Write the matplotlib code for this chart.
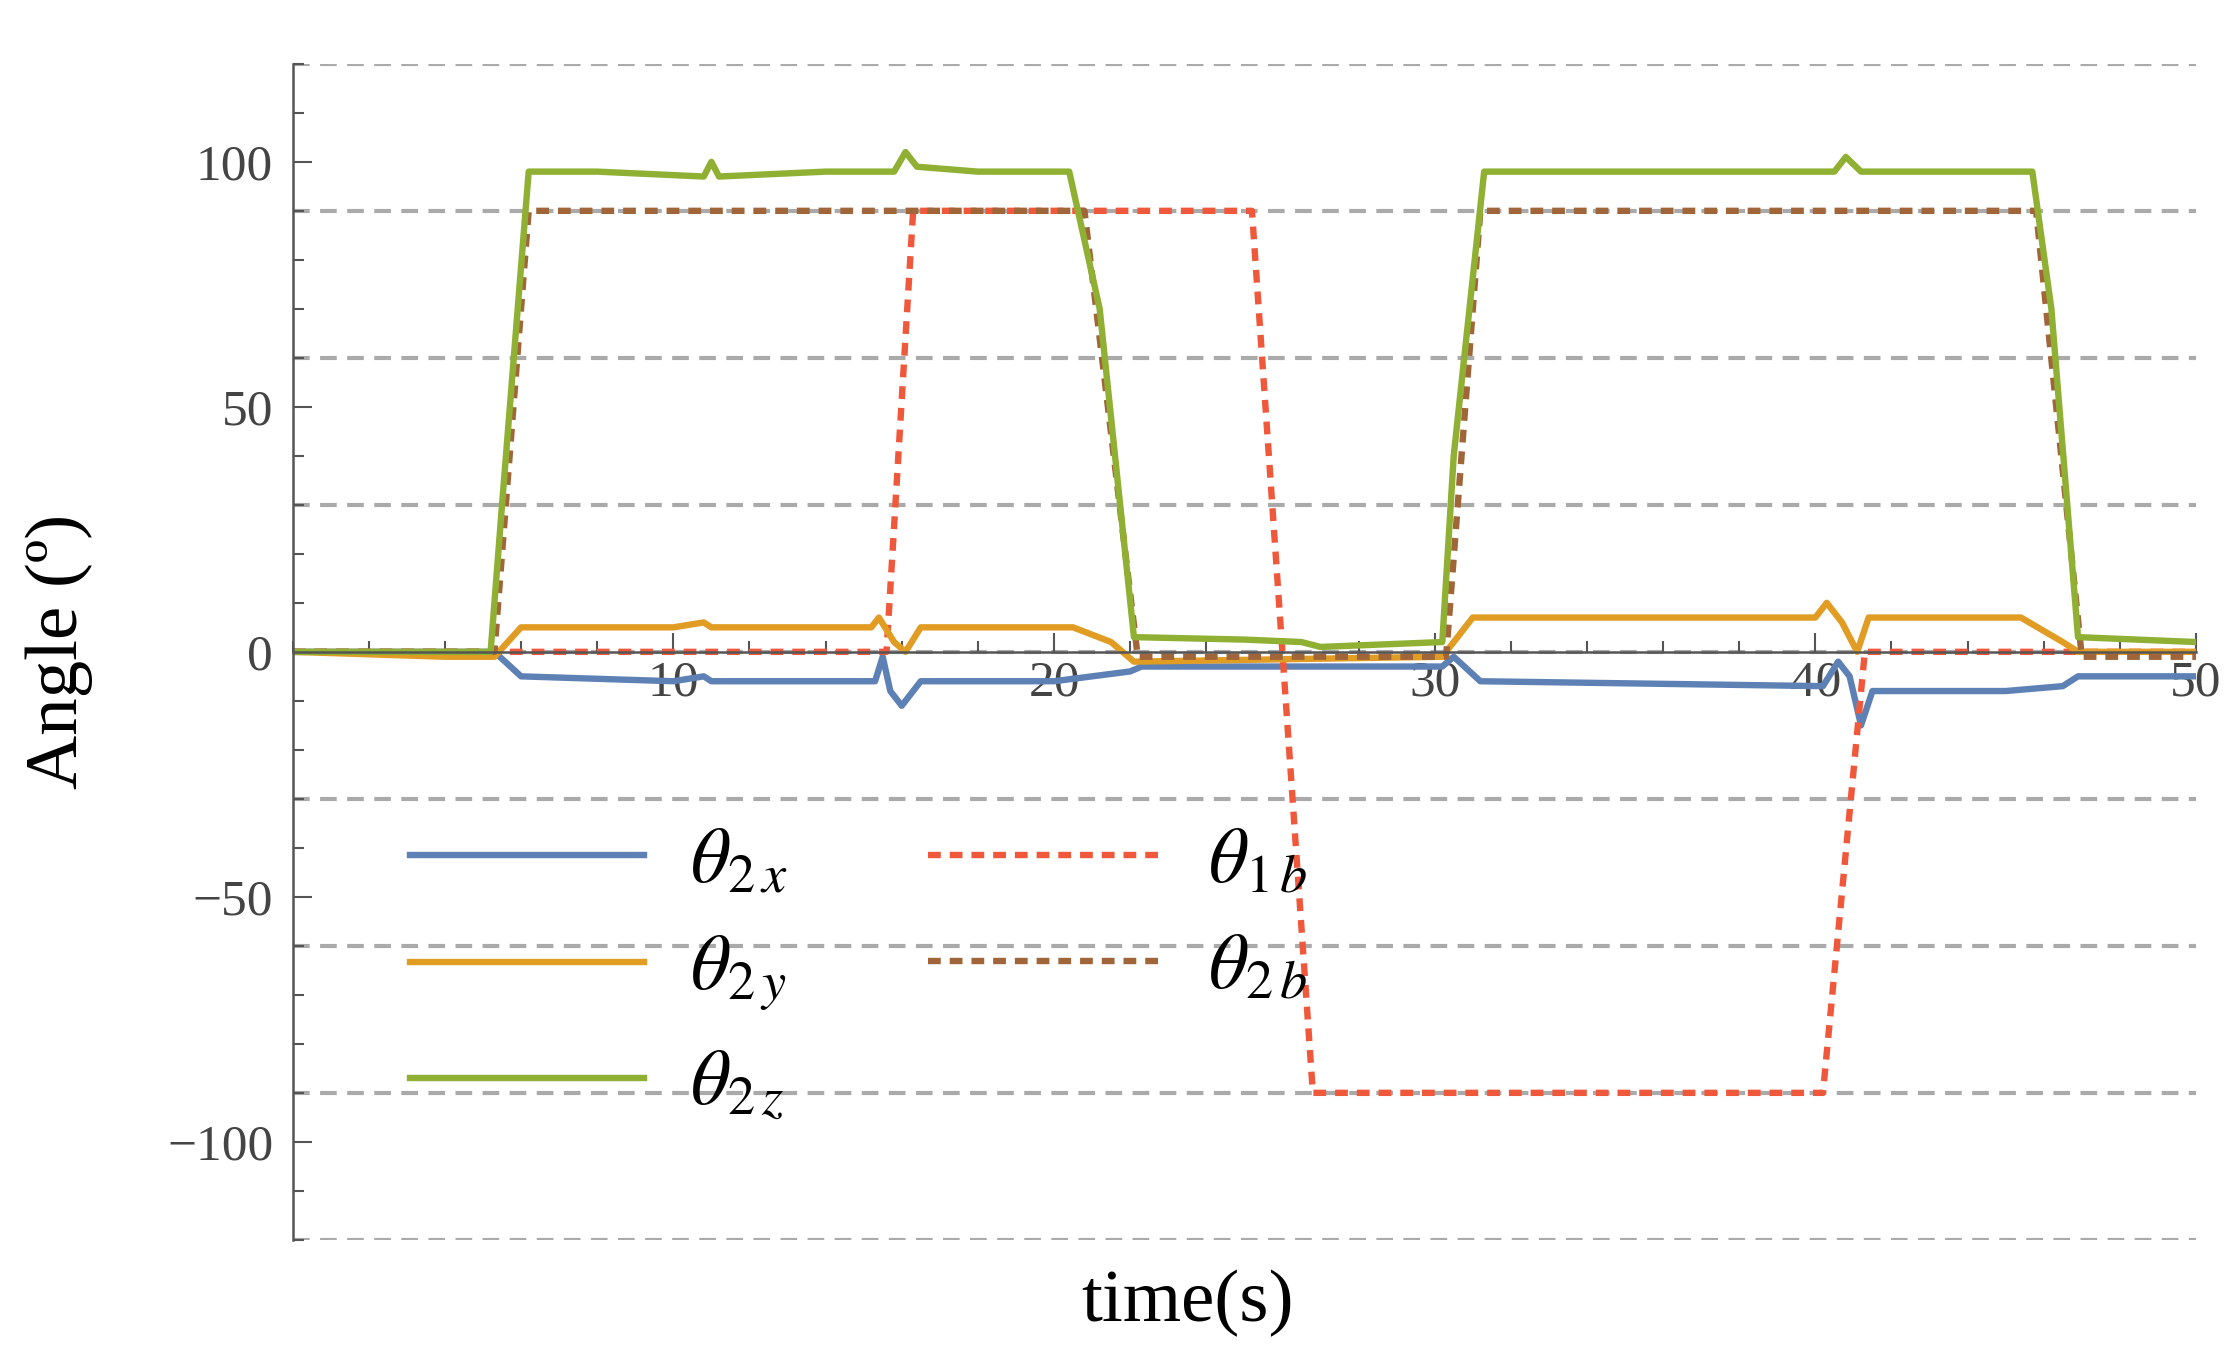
import numpy as np
import matplotlib.pyplot as plt
from matplotlib.ticker import MultipleLocator

plt.rcParams["mathtext.fontset"] = "stix"
plt.rcParams["font.family"] = ["Liberation Serif", "DejaVu Serif"]

# series: (time, angle) breakpoints
t2z = [0, 5.2, 5.5, 6.2, 8, 10.8, 11, 11.2, 14, 15.8, 16.1, 16.4, 18, 20.4, 21.2, 22.1, 25, 26.5, 27, 30.2, 30.5, 31.3, 35, 40.5, 40.8, 41.2, 45.7, 46.2, 46.9, 50]
v2z = [0, 0, 30, 98, 98, 97, 100, 97, 98, 98, 102, 99, 98, 98, 70, 3, 2.5, 2, 1, 2, 40, 98, 98, 98, 101, 98, 98, 70, 3, 2]

t2b = [0, 5.3, 6.2, 20.8, 22.2, 30.3, 31.2, 45.8, 47, 50]
v2b = [0, 0, 90, 90, -1, -1, 90, 90, -1, -1]

t1b = [0, 15.6, 16.3, 25.2, 26.8, 40.2, 41.3, 50]
v1b = [0, 0, 90, 90, -90, -90, 0, 0]

t2x = [0, 5.3, 6.0, 10, 10.8, 11, 15.3, 15.5, 15.7, 16.0, 16.5, 20, 22, 22.3, 30.2, 30.5, 31.2, 40.2, 40.6, 40.9, 41.2, 41.5, 45, 46.5, 46.9, 50]
v2x = [0, 0, -5, -6, -5, -6, -6, -1, -8, -11, -6, -6, -4, -3, -3, -1, -6, -7, -2, -5, -15, -8, -8, -7, -5, -5]

t2y = [0, 4, 5.3, 6.0, 10, 10.8, 11, 15.2, 15.4, 15.8, 16.1, 16.5, 20.5, 21.5, 22.1, 30.2, 31.0, 35, 40.0, 40.3, 40.7, 41.1, 41.4, 45.4, 46.5, 46.9, 50]
v2y = [0, -1, -1, 5, 5, 6, 5, 5, 7, 2, 0, 5, 5, 2, -2, -1, 7, 7, 7, 10, 6, 0, 7, 7, 2, 0, 0]

fig = plt.figure(figsize=(22.34, 13.58), dpi=100)
ax = fig.add_axes([0.131, 0.087, 0.852, 0.866])

lw = 4.6
dash = (0, (2.0, 1.4))
ax.plot(t2x, v2x, color="#5e81b5", lw=lw, label=r"$\theta_{2\,x}$")
ax.plot(t1b, v1b, color="#f0583c", lw=lw, ls=dash, label=r"$\theta_{1\,b}$")
ax.plot(t2y, v2y, color="#e19c24", lw=lw, label=r"$\theta_{2\,y}$")
ax.plot(t2b, v2b, color="#a0663a", lw=lw, ls=dash, label=r"$\theta_{2\,b}$")
ax.plot(t2z, v2z, color="#8fb032", lw=lw, label=r"$\theta_{2\,z}$")

ax.set_xlim(0, 50)
ax.set_ylim(-120, 120)
for y in range(-120, 121, 30):
    ax.axhline(y, color="#aaaaaa", lw=3.0, ls=(0, (4, 2.5)), zorder=0)

ax.spines["bottom"].set_position(("data", 0))
ax.spines["top"].set_visible(False)
ax.spines["right"].set_visible(False)
for s in ("left", "bottom"):
    ax.spines[s].set_color("#555555")
    ax.spines[s].set_linewidth(1.8)

ax.set_xticks([10, 20, 30, 40, 50])
ax.xaxis.set_minor_locator(MultipleLocator(2))
ax.set_yticks([-100, -50, 0, 50, 100])
ax.yaxis.set_minor_locator(MultipleLocator(10))
ax.tick_params(which="both", direction="in", colors="#555555", labelsize=37, width=1.5)
ax.tick_params(which="major", length=14)
ax.tick_params(which="minor", length=8)
ax.tick_params(axis="x", pad=6)
ax.tick_params(axis="y", pad=14)
for lab in ax.get_xticklabels() + ax.get_yticklabels():
    lab.set_color("#444444")

ax.set_xlabel("time(s)", fontsize=54)
ax.xaxis.set_label_coords(0.47, -0.025)
ax.set_ylabel("Angle (º)", fontsize=54)
ax.yaxis.set_label_coords(-0.105, 0.5)

handles, labels = ax.get_legend_handles_labels()
order = [0, 2, 4, 1, 3]
leg = ax.legend([handles[i] for i in order], [labels[i] for i in order],
                ncol=2, loc="lower left", bbox_to_anchor=(0.025, 0.04),
                frameon=False, fontsize=56, handlelength=3.0,
                columnspacing=1.8, labelspacing=0.45, handletextpad=0.6)

fig.savefig("out.png")
